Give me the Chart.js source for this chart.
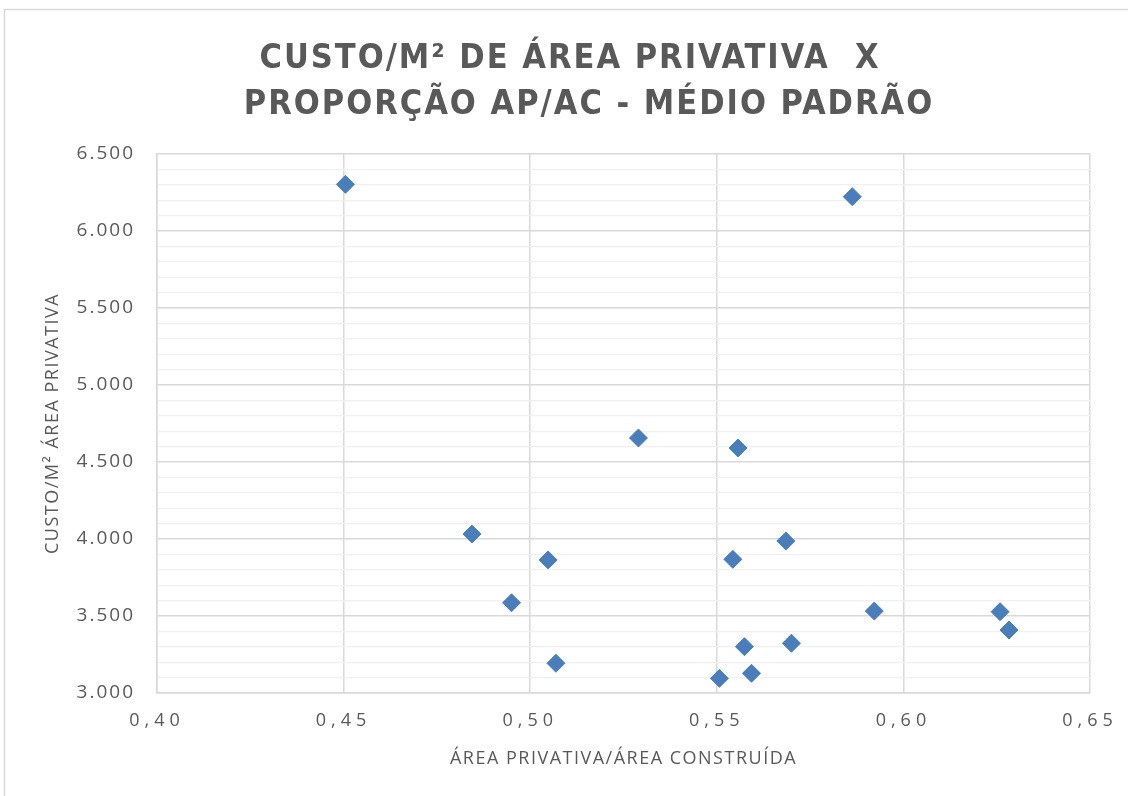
<!DOCTYPE html>
<html lang="pt-BR">
<head>
<meta charset="utf-8">
<title>Custo/m² x Proporção AP/AC</title>
<script src="https://cdn.jsdelivr.net/npm/chart.js@4.4.1/dist/chart.umd.min.js"></script>
<style>
  html, body { margin: 0; padding: 0; background: #fff; overflow: hidden; }
  canvas { display: block; }
</style>
</head>
<body>
<canvas id="grafico" width="1128" height="796"></canvas>
<script>
// dados (AP/AC x custo por m² de área privativa)
const proporcaoApAc = [0.4505, 0.5863, 0.529, 0.5557, 0.4844, 0.5048, 0.5543, 0.5685, 0.495, 0.5922, 0.6259, 0.6283, 0.5574, 0.570, 0.5069, 0.5593, 0.5507];
const custoM2 = [6303, 6223, 4656, 4591, 4032, 3864, 3868, 3987, 3586, 3532, 3528, 3409, 3301, 3323, 3193, 3128, 3095];

// rótulos dos eixos
const rotulosX = ['0,40', '0,45', '0,50', '0,55', '0,60', '0,65'];
const rotulosY = ['3.000', '3.500', '4.000', '4.500', '5.000', '5.500', '6.000', '6.500'];

const cinzaTexto = '#595959';
const azul = '#4A7EBB';
const fonteTitulo = '"DejaVu Sans Condensed", "Open Sans", sans-serif';
const fonteEixos = '"Open Sans", sans-serif';

// espaçamento entre letras (o Chart.js não tem opção para isso)
// dx desloca o texto na horizontal
function comEspaco(obj, metodo, espaco, dx) {
    if (!obj || obj['_esp_' + metodo]) return;
    const original = obj[metodo];
    obj[metodo] = function (...args) {
        const c = this.ctx;
        c.save();
        c.letterSpacing = espaco;
        if (dx) c.translate(dx, 0);
        original.apply(this, args);
        c.restore();
    };
    obj['_esp_' + metodo] = true;
}

const pluginEspaco = {
    id: 'espaco',
    afterLayout(chart) {
        comEspaco(chart.titleBlock, 'draw', '2px', 34);
        comEspaco(chart.scales.x, 'drawLabels', '5px');
        comEspaco(chart.scales.x, 'drawTitle', '1.5px');
        comEspaco(chart.scales.y, 'drawLabels', '2px');
        comEspaco(chart.scales.y, 'drawTitle', '1.5px');
    }
};

// moldura cinza em volta do gráfico
const pluginMoldura = {
    id: 'moldura',
    beforeDraw(chart) {
        const c = chart.ctx;
        c.save();
        c.strokeStyle = '#d9d9d9';
        c.lineWidth = 1.5;
        c.strokeRect(4.5, 9.5, chart.width + 20, chart.height + 20);
        c.restore();
    }
};

const ctx = document.getElementById('grafico').getContext('2d');

new Chart(ctx, {
    type: 'scatter',
    data: {
        datasets: [{
            label: 'Custo/m²',
            data: proporcaoApAc.map((x, i) => ({ x: x, y: custoM2[i] })),
            pointStyle: 'rectRot',
            pointRadius: 9,
            pointHoverRadius: 9,
            backgroundColor: azul,
            borderColor: azul,
            borderWidth: 1
        }]
    },
    options: {
        responsive: false,
        animation: false,
        layout: { padding: { left: 20, right: 38, top: 0, bottom: 10 } },
        plugins: {
            legend: { display: false },
            tooltip: { enabled: false },
            title: {
                display: true,
                text: ['CUSTO/M² DE ÁREA PRIVATIVA  X   ', 'PROPORÇÃO AP/AC - MÉDIO PADRÃO'],
                color: cinzaTexto,
                font: { family: fonteTitulo, size: 34, weight: 'bold', lineHeight: 1.353 },
                padding: { top: 36, bottom: 26 }
            }
        },
        scales: {
            x: {
                type: 'linear',
                min: 0.40,
                max: 0.65,
                afterFit(scale) { scale.height = 93; },
                ticks: {
                    stepSize: 0.05,
                    padding: 17,
                    color: cinzaTexto,
                    font: { family: fonteEixos, size: 18 },
                    callback: (v, i) => rotulosX[i]
                },
                grid: { color: '#d9d9d9', lineWidth: 1.5, drawTicks: false },
                border: { color: '#d9d9d9', width: 1.5 },
                title: {
                    display: true,
                    text: 'ÁREA PRIVATIVA/ÁREA CONSTRUÍDA',
                    color: cinzaTexto,
                    font: { family: fonteEixos, size: 18 },
                    padding: { top: 0, bottom: 16 }
                }
            },
            y: {
                type: 'linear',
                min: 3000,
                max: 6500,
                afterFit(scale) { scale.width = 137; },
                ticks: {
                    stepSize: 100,
                    autoSkip: false,
                    padding: 22,
                    color: cinzaTexto,
                    font: { family: fonteEixos, size: 19 },
                    callback: (v) => (v % 500 === 0 ? rotulosY[(v - 3000) / 500] : '')
                },
                grid: {
                    drawTicks: false,
                    color: (c) => (c.tick && c.tick.value % 500 === 0 ? '#d9d9d9' : '#f0f0f0'),
                    lineWidth: (c) => (c.tick && c.tick.value % 500 === 0 ? 1.5 : 1.2)
                },
                border: { color: '#d9d9d9', width: 1.5 },
                title: {
                    display: true,
                    text: 'CUSTO/M² ÁREA PRIVATIVA',
                    color: cinzaTexto,
                    font: { family: fonteEixos, size: 18 },
                    padding: { top: 22, bottom: 0 }
                }
            }
        }
    },
    plugins: [pluginEspaco, pluginMoldura]
});
</script>
</body>
</html>
